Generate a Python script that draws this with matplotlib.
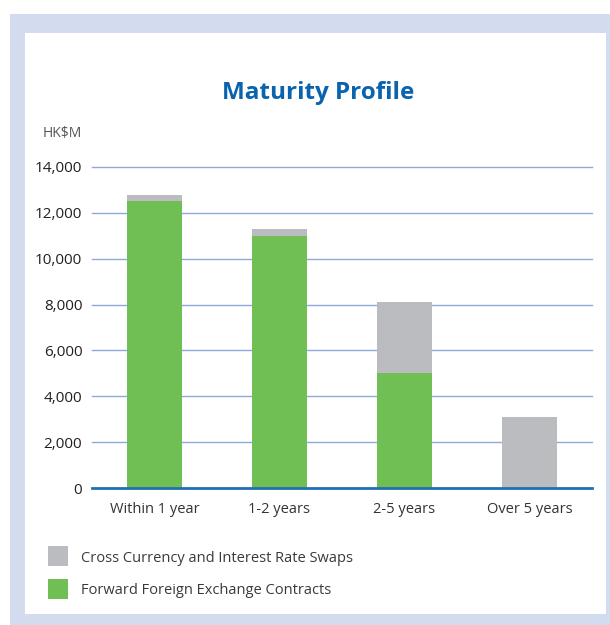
import matplotlib
matplotlib.use('Agg')
import matplotlib.pyplot as plt
from matplotlib.patches import Rectangle
import numpy as np

# data (HK$M)
categories = ['Within 1 year', '1-2 years', '2-5 years', 'Over 5 years']
forward_fx = [12500, 11000, 5000, 0]
swaps = [300, 300, 3100, 3100]
yticks = [0, 2000, 4000, 6000, 8000, 10000, 12000, 14000]

W, H = 610, 625
GREEN = '#6fbf54'
GREY = '#bbbcc0'
FRAME = '#d3dcee'

plt.rcParams['font.family'] = ['Open Sans', 'DejaVu Sans']

fig = plt.figure(figsize=(W / 100, H / 100), dpi=100)
fig.patch.set_facecolor('white')

# frame and white panel
fig.patches.append(Rectangle((10 / W, 0), 1, (H - 14) / H, transform=fig.transFigure,
                             facecolor=FRAME, edgecolor='none', zorder=-2))
fig.patches.append(Rectangle((25 / W, 11 / H), 581 / W, 581 / H, transform=fig.transFigure,
                             facecolor='white', edgecolor='none', zorder=-1))

ax = fig.add_axes([92 / W, 137 / H, 500 / W, 321 / H])
ax.set_zorder(2)
ax.set_facecolor('none')

x = np.arange(len(categories))
ax.bar(x, forward_fx, width=0.44, color=GREEN, zorder=3)
ax.bar(x, swaps, width=0.44, bottom=forward_fx, color=GREY, zorder=3)

ax.set_xlim(-0.5, 3.5)
ax.set_ylim(0, 14000)
ax.set_yticks(yticks)
ax.set_yticklabels(['{:,}'.format(v) for v in yticks], fontsize=11, color='#231f20')
ax.set_xticks(x)
ax.set_xticklabels(categories, fontsize=10.5, color='#333333')
ax.tick_params(axis='y', length=0, pad=7)
ax.tick_params(axis='x', length=0, pad=10)

for v in yticks[1:]:
    ax.axhline(v, color='#8eaadb', lw=1.0, zorder=1, clip_on=False)
for s in ['top', 'right', 'left']:
    ax.spines[s].set_visible(False)
ax.spines['bottom'].set_color('#2070b4')
ax.spines['bottom'].set_linewidth(2)
ax.spines['bottom'].set_zorder(4)

fig.text(318 / W, 1 - 93 / H, 'Maturity Profile', ha='center', va='center',
         fontsize=17.5, fontweight='bold', color='#0a63ad')
fig.text(43 / W, 1 - 134 / H, 'HK$M', ha='left', va='center', fontsize=10, color='#555555')

# legend
for i, (lab, col) in enumerate([('Cross Currency and Interest Rate Swaps', GREY),
                                ('Forward Foreign Exchange Contracts', GREEN)]):
    yc = 556 + i * 33
    fig.patches.append(Rectangle((48 / W, 1 - (yc + 10) / H), 20 / W, 20 / H,
                                 transform=fig.transFigure, facecolor=col, edgecolor='none'))
    fig.text(81 / W, 1 - (yc + 2) / H, lab, ha='left', va='center', fontsize=10.5, color='#3a3a3a')

fig.savefig('out.png', dpi=100)
